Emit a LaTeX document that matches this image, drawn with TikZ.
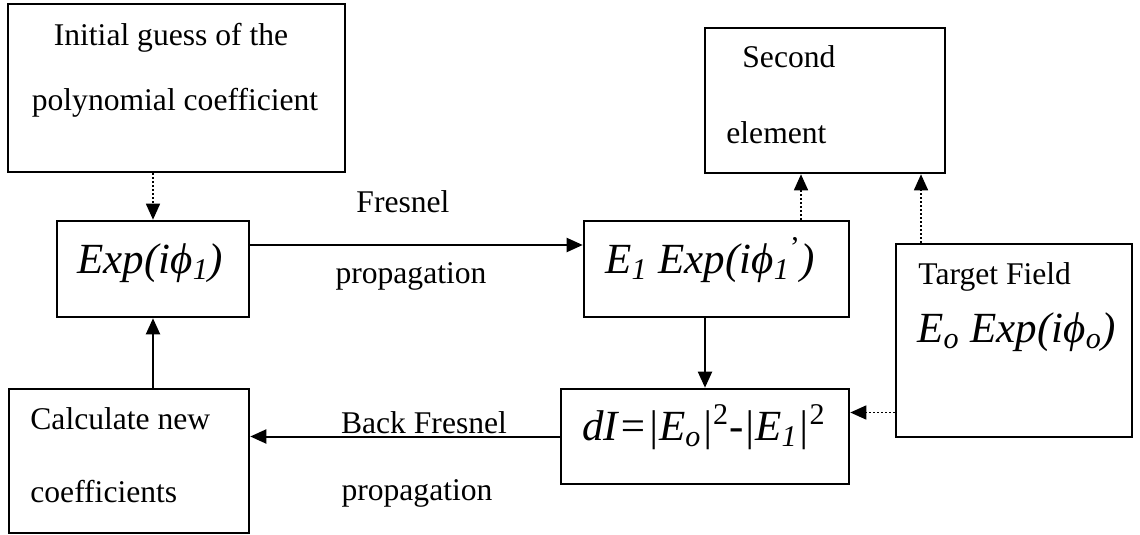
\documentclass[tikz,border=0pt]{standalone}
\usepackage{fontspec}
\setmainfont{Liberation Serif}
\usetikzlibrary{arrows.meta,positioning}
\newcommand{\ph}{\symbol{"03D5}}

\begin{document}
\begin{tikzpicture}[x=0.5pt,y=-0.5pt,
  box/.style={draw, line width=1.3pt, inner sep=0pt},
  txt/.style={inner sep=0pt, anchor=base west, font=\fontsize{15.8}{19}\selectfont},
  eq/.style={inner sep=0pt, anchor=base west, font=\fontsize{21.5}{26}\selectfont\itshape},
  link/.style={line width=1pt, -{Triangle[length=8pt,width=7pt]}},
  dots/.style={link, line width=0.8pt, dash pattern=on 1pt off 1pt}]
  \useasboundingbox (0,0) rectangle (1140,535);
  \node[box, minimum width=168.5pt, minimum height=84pt] (init) at (176.5,88) {};
  \node[box, minimum width=96pt, minimum height=48pt] (Exp) at (153,269) {};
  \node[box, minimum width=132.5pt, minimum height=48pt] (E1) at (716.5,269) {};
  \node[box, minimum width=144pt, minimum height=47.5pt] (dI) at (705,436.5) {};
  \node[box, minimum width=120pt, minimum height=72pt] (Calc) at (129,461) {};
  \node[box, minimum width=120pt, minimum height=72.5pt] (Second) at (825,100.5) {};
  \node[box, minimum width=118pt, minimum height=96.5pt] (Target) at (1014,340.5) {};

  \node[txt, anchor=base] (initA) at (171,46) {Initial guess of the};
  \node[txt, anchor=base] (initB) at (175,111) {polynomial coefficient};
  \node[eq] (ExpT) at (77,273) {Exp(i\ph\textsubscript{1})};
  \node[eq] (E1T) at (605,273) {E\textsubscript{1} Exp(i\ph\textsubscript{1}\textsuperscript{\upshape’})};
  \node[eq] (dIT) at (582,440) {dI=|E\textsubscript{o}|\textsuperscript{\upshape 2}{\upshape -}|E\textsubscript{1}|\textsuperscript{\upshape 2}};
  \node[txt] (CalcA) at (30,429) {Calculate new};
  \node[txt] (CalcB) at (30,502) {coefficients};
  \node[txt] (SecA) at (742,68) {Second};
  \node[txt] (SecB) at (726,143) {element};
  \node[txt] (TarA) at (918,284) {Target Field};
  \node[eq] (TarB) at (917,342) {E\textsubscript{o} Exp(i\ph\textsubscript{o})};

  \node[txt, anchor=base] (fwdA) at (403,212) {Fresnel};
  \node[txt, anchor=base] (fwdB) at (411,283) {propagation};
  \node[txt, anchor=base] (bwdA) at (424,433) {Back Fresnel};
  \node[txt, anchor=base] (bwdB) at (417,500) {propagation};

  \coordinate (s1) at ([xshift=-12pt]Second.south);
  \coordinate (s2) at ([xshift=48pt]Second.south);
  \coordinate (t) at ([yshift=12pt]dI.east);
  \draw[dots] (init.south -| Exp.north) -- (Exp.north);
  \draw[link] ([yshift=12pt]Exp.east) -- ([yshift=12pt]E1.west);
  \draw[link] (E1.south -| dI.north) -- (dI.north);
  \draw[dots] (t -| Target.west) -- (t);
  \draw[link] (dI.west) -- (dI.west -| Calc.east);
  \draw[link] (Calc.north -| Exp.south) -- (Exp.south);
  \draw[dots] (E1.north -| s1) -- (s1);
  \draw[dots] (Target.north -| s2) -- (s2);
\end{tikzpicture}
\end{document}
